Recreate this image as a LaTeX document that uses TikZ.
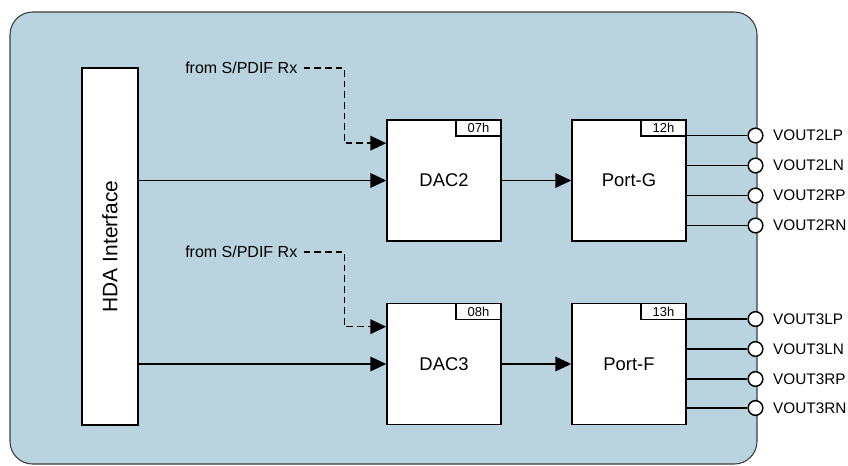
\documentclass[tikz,border=0pt]{standalone}
\usepackage{fontspec}
\setmainfont{Liberation Sans}
\usetikzlibrary{arrows.meta, positioning, calc}
\definecolor{cPanel}{RGB}{185,211,223}
\definecolor{cEdge}{RGB}{60,60,60}

\begin{document}
\begin{tikzpicture}[x=0.75pt, y=-0.75pt,
    blk/.style={draw, fill=white, line width=1.1pt, inner sep=0pt,
      minimum width=85.5pt, minimum height=90.75pt, font=\fontsize{13.8}{16}\selectfont},
    tag/.style={draw, fill=white, line width=1.1pt, inner sep=0pt,
      minimum width=33.75pt, minimum height=12pt, font=\fontsize{9.75}{11}\selectfont},
    src/.style={inner xsep=4.5pt, inner ysep=0pt, anchor=west, font=\fontsize{12}{14}\selectfont},
    jack/.style={circle, draw, fill=white, line width=1.1pt, minimum size=11pt, inner sep=0pt},
    outlbl/.style={inner sep=0pt, font=\fontsize{11.5}{13}\selectfont},
    arr/.style={line width=1.1pt, -{Triangle[length=12pt, width=11pt]}},
    dasharr/.style={arr, dash pattern=on 5pt off 3pt}]
  \useasboundingbox (0,0) rectangle (848,465);
  % panel
  \filldraw[fill=cPanel, draw=cEdge, line width=0.8pt, rounded corners=17pt]
    (10,12) rectangle (757,464);

  \node[blk, minimum width=42pt, minimum height=267.75pt, font=\fontsize{15.7}{18}\selectfont]
    (hda) at (110,246.5) {\rotatebox{90}{HDA Interface}};

  \node[blk] (dacA) at (444,180.5) {DAC2};
  \node[blk] (dacB) at (444,364) {DAC3};
  \node[blk] (portG) at (629,180.5) {Port-G};
  \node[blk] (portF) at (629,364) {Port-F};
  \node[tag, anchor=north east] (tagA) at (dacA.north east) {07h};
  \node[tag, anchor=north east] (tagB) at (dacB.north east) {08h};
  \node[tag, anchor=north east] (tagG) at (portG.north east) {12h};
  \node[tag, anchor=north east] (tagF) at (portF.north east) {13h};

  \node[src] (srcA) at (179,68) {from S/PDIF Rx};
  \node[src] (srcB) at (179,252) {from S/PDIF Rx};
  \coordinate (inA) at ([yshift=28pt]dacA.west);
  \coordinate (inB) at ([yshift=28pt]dacB.west);

  \draw[dasharr] (srcA.east) -| ([xshift=-31.5pt]inA) -- (inA);
  \draw[dasharr] (srcB.east) -| ([xshift=-31.5pt]inB) -- (inB);
  \draw[arr] (hda.east |- dacA.west) -- (dacA.west);
  \draw[arr] (hda.east |- dacB.west) -- (dacB.west);
  \draw[arr] (dacA) -- (portG);
  \draw[arr] (dacB) -- (portF);

  % outputs
  \foreach \n/\dy/\txt in {1/-45/VOUT2LP, 2/-15/VOUT2LN, 3/15/VOUT2RP, 4/45/VOUT2RN} {
    \node[jack] (jG\n) at (755.5,180.5+\dy) {};
    \node[outlbl, right=7pt of jG\n] (lG\n) {\txt};
    \draw[line width=1.1pt] (portG.east |- jG\n) -- (jG\n);
  }
  \foreach \n/\dy/\txt in {1/-45/VOUT3LP, 2/-15/VOUT3LN, 3/15/VOUT3RP, 4/44/VOUT3RN} {
    \node[jack] (jF\n) at (755.5,364+\dy) {};
    \node[outlbl, right=7pt of jF\n] (lF\n) {\txt};
    \draw[line width=1.1pt] (portF.east |- jF\n) -- (jF\n);
  }
\end{tikzpicture}
\end{document}
